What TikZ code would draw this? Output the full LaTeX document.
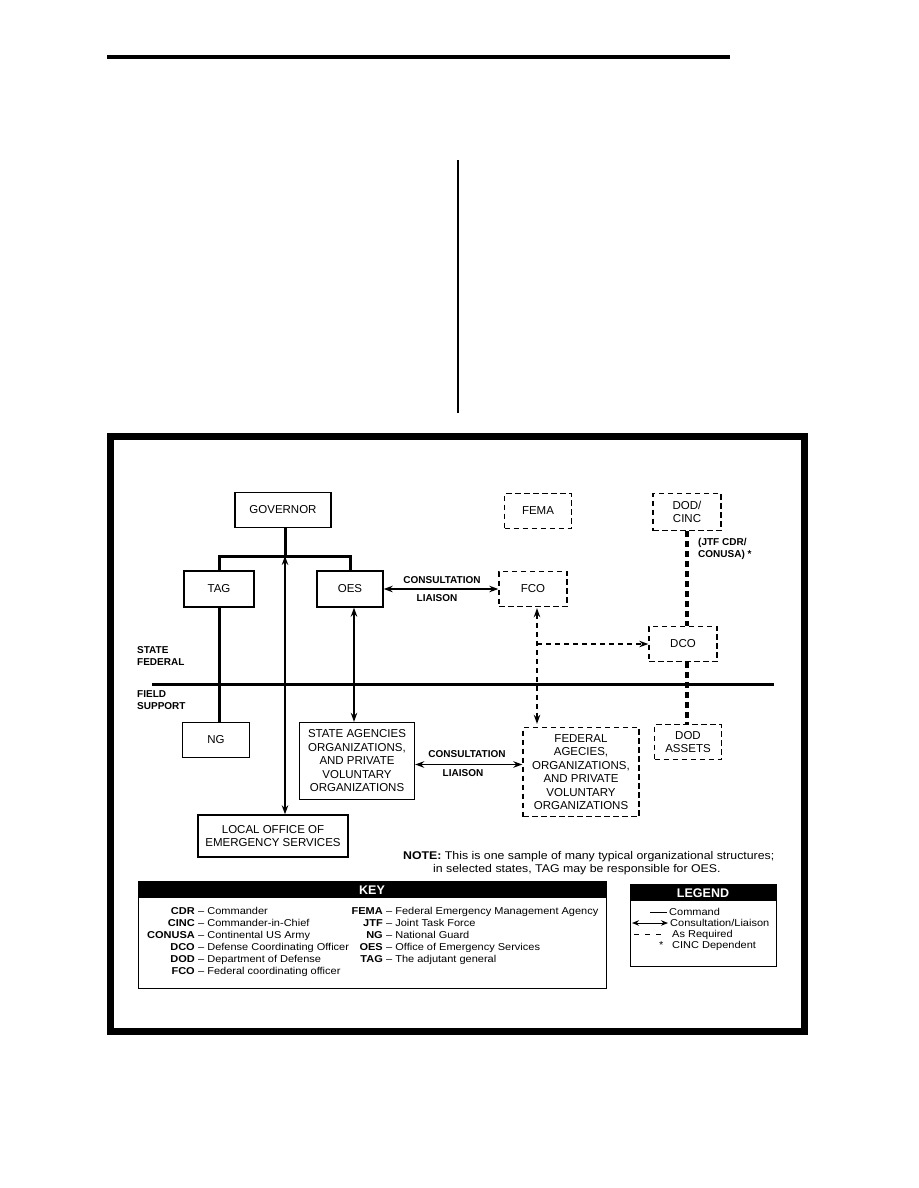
\documentclass[tikz,border=0pt]{standalone}
\usepackage{fontspec}
\setmainfont{Liberation Sans}
\newfontfamily\widefont[FakeStretch=1.1]{Liberation Sans}
\usetikzlibrary{arrows.meta}
\begin{document}
\begin{tikzpicture}[x=1pt,y=-1pt,
  every node/.style={inner sep=0pt, font=\fontsize{11.5}{13.5}\selectfont},
  bx/.style={draw, line width=1.4pt, align=center},
  dbx/.style={draw, line width=1.4pt, dash pattern=on 5.5pt off 3.5pt, align=center},
  cmd/.style={line width=3pt},
  lia/.style={line width=1.2pt, {Stealth[length=9pt,width=6.5pt]}-{Stealth[length=9pt,width=6.5pt]}},
  asreq/.style={line width=1.1pt, dash pattern=on 5pt off 4pt},
  thd/.style={line width=3.5pt, dash pattern=on 6pt off 4pt},
  lbl/.style={font=\bfseries\fontsize{10}{12.5}\selectfont, anchor=west, align=left},
  clbl/.style={font=\bfseries\fontsize{10}{12}\selectfont},
  keyab/.style={font=\widefont\bfseries\fontsize{10}{12}\selectfont, anchor=base east},
  keytx/.style={font=\widefont\fontsize{10}{12}\selectfont, anchor=base west},
  hdr/.style={font=\bfseries\fontsize{12.5}{14}\selectfont, text=white}
]
\useasboundingbox (0,0) rectangle (918,1188);

% top page rules
\coordinate (tl) at (107,57); \coordinate (tr) at (730,57);
\draw[line width=3.5pt] (tl) -- (tr);
\coordinate (vt) at (458,160); \coordinate (vb) at (458,413);
\draw[line width=2.5pt] (vt) -- (vb);

% frame
\draw[line width=7pt] (110.5,436.5) rectangle (804.5,1031.5);

% main division line
\coordinate (hl) at (152,684); \coordinate (hr) at (774,684);
\draw[line width=3pt] (hl) -- (hr);

% nodes
\node[bx, minimum width=96pt, minimum height=35pt] (gov) at (283,510) {GOVERNOR};
\node[dbx, minimum width=67pt, minimum height=35pt] (fema) at (538,511) {FEMA};
\node[dbx, minimum width=68pt, minimum height=37pt] (dod) at (687,512) {DOD/\\CINC};
\node[bx, minimum width=70pt, minimum height=36pt] (tag) at (219,589) {TAG};
\node[bx, minimum width=66pt, minimum height=36pt] (oes) at (350,589) {OES};
\node[dbx, minimum width=68pt, minimum height=35pt] (fco) at (533,589) {FCO};
\node[dbx, minimum width=68pt, minimum height=35pt] (dco) at (683,644) {DCO};
\node[bx, minimum width=67pt, minimum height=35pt] (ng) at (216,740) {NG};
\node[bx, minimum width=115pt, minimum height=77pt] (st) at (357,761)
  {STATE AGENCIES\\ORGANIZATIONS,\\AND PRIVATE\\VOLUNTARY\\ORGANIZATIONS};
\node[dbx, minimum width=116pt, minimum height=89pt] (fed) at (581,772)
  {FEDERAL\\AGECIES,\\ORGANIZATIONS,\\AND PRIVATE\\VOLUNTARY\\ORGANIZATIONS};
\node[dbx, minimum width=67pt, minimum height=35pt] (asset) at (688,742) {DOD\\ASSETS};
\node[bx, minimum width=150pt, minimum height=42pt] (loc) at (273,836)
  {LOCAL OFFICE OF\\EMERGENCY SERVICES};

% labels
\node[lbl] (jtf) at (698,549) {(JTF CDR/\\CONUSA) *};
\node[lbl] (sf) at (137,656) {STATE\\FEDERAL};
\node[lbl] (fs) at (137,700) {FIELD\\SUPPORT};
\node[clbl] (c1) at (442,580) {CONSULTATION};
\node[clbl] (l1) at (437,598) {LIAISON};
\node[clbl] (c2) at (467,754) {CONSULTATION};
\node[clbl] (l2) at (463,773) {LIAISON};

% command lines
\coordinate (bar) at (285,556);
\draw[cmd] (gov.south -| bar) -- (bar);
\draw[cmd, line join=miter] (tag.north) -- (tag.north |- bar) -- (oes.north |- bar) -- (oes.north);
\draw[cmd] (tag.south) -- (tag.south |- ng.north);

% consultation / liaison
\draw[lia] (bar) -- (bar |- loc.north);
\draw[lia] ([xshift=4pt]oes.south) -- ([xshift=4pt]oes.south |- st.north);
\draw[lia] (oes.east) -- (fco.west);
\draw[lia] ([yshift=-3.5pt]st.east) -- ([yshift=-3.5pt]st.east -| fed.west);

% as required
\draw[asreq, {Stealth[length=9pt,width=6.5pt]}-{Stealth[length=9pt,width=6.5pt]}, shorten <=1pt, shorten >=3pt]
  ([xshift=4pt]fco.south) -- ([xshift=4pt]fco.south |- fed.north);
\coordinate (br) at (537,644);
\draw[asreq, -{Stealth[length=9pt,width=6.5pt]}] (br) -- (dco.west);
\draw[thd] (dod.south) -- (dod.south |- dco.north);
\draw[thd] (dod.south |- dco.south) -- (dod.south |- asset.north);

% note
\node[font=\widefont\fontsize{11.2}{13}\selectfont, anchor=base west] (note1) at (403,859)
  {\textbf{NOTE:} This is one sample of many typical organizational structures;};
\node[font=\widefont\fontsize{11.2}{13}\selectfont, anchor=base west] (note2) at (433,872)
  {in selected states, TAG may be responsible for OES.};

% key
\draw[line width=1pt] (138,881) rectangle (606,988);
\fill (138,881) rectangle (606,898);
\node[hdr] (keyh) at (372,890) {KEY};
\node[keyab] (ka1) at (195,914) {CDR};    \node[keytx] (kt1) at (198,914) {\textendash{} Commander};
\node[keyab] (ka2) at (195,926) {CINC};   \node[keytx] (kt2) at (198,926) {\textendash{} Commander-in-Chief};
\node[keyab] (ka3) at (195,938) {CONUSA}; \node[keytx] (kt3) at (198,938) {\textendash{} Continental US Army};
\node[keyab] (ka4) at (195,950) {DCO};    \node[keytx] (kt4) at (198,950) {\textendash{} Defense Coordinating Officer};
\node[keyab] (ka5) at (195,962) {DOD};    \node[keytx] (kt5) at (198,962) {\textendash{} Department of Defense};
\node[keyab] (ka6) at (195,974) {FCO};    \node[keytx] (kt6) at (198,974) {\textendash{} Federal coordinating officer};
\node[keyab] (kb1) at (383,914) {FEMA};   \node[keytx] (ku1) at (386,914) {\textendash{} Federal Emergency Management Agency};
\node[keyab] (kb2) at (383,926) {JTF};    \node[keytx] (ku2) at (386,926) {\textendash{} Joint Task Force};
\node[keyab] (kb3) at (383,938) {NG};     \node[keytx] (ku3) at (386,938) {\textendash{} National Guard};
\node[keyab] (kb4) at (383,950) {OES};    \node[keytx] (ku4) at (386,950) {\textendash{} Office of Emergency Services};
\node[keyab] (kb5) at (383,962) {TAG};    \node[keytx] (ku5) at (386,962) {\textendash{} The adjutant general};

% legend
\draw[line width=1pt] (630,884) rectangle (776,966);
\fill (630,884) rectangle (776,901);
\node[hdr] (legh) at (703,893) {LEGEND};
\coordinate (la1) at (650,912); \coordinate (lb1) at (667,912);
\draw[line width=1pt] (la1) -- (lb1);
\node[keytx] (lt1) at (669,915.5) {Command};
\coordinate (la2) at (632,923); \coordinate (lb2) at (668,923);
\draw[line width=1pt, {Stealth[length=7pt,width=5.5pt]}-{Stealth[length=7pt,width=5.5pt]}] (la2) -- (lb2);
\node[keytx] (lt2) at (670,926.5) {Consultation/Liaison};
\coordinate (la3) at (634,934); \coordinate (lb3) at (664,934);
\draw[line width=1pt, dash pattern=on 5pt off 6pt] (la3) -- (lb3);
\node[keytx] (lt3) at (672,937.5) {As Required};
\node[keytx] (lst) at (659,948.5) {*};
\node[keytx] (lt4) at (672,948.5) {CINC Dependent};
\end{tikzpicture}
\end{document}
